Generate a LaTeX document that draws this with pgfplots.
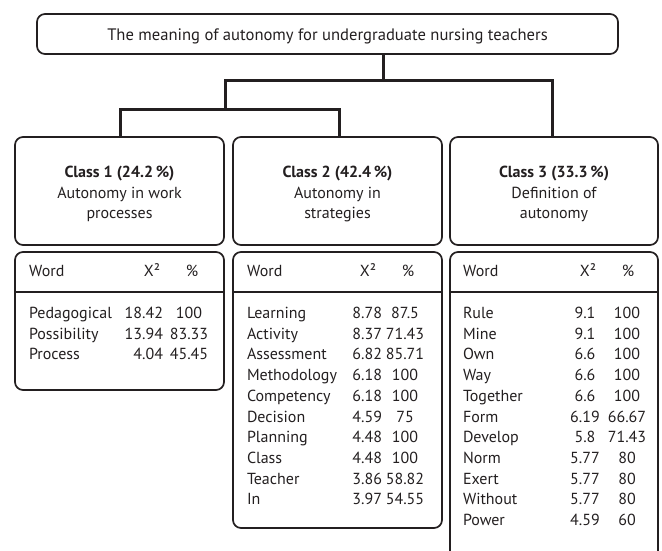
\documentclass[border=0pt]{standalone}
\usepackage{pgfplots}
\pgfplotsset{compat=1.18}
\usepackage{pgfplotstable}
\usepackage{fontspec}
\setmainfont{PT Sans}
\newcommand\tf{\fontsize{16pt}{19pt}\selectfont}
\newcommand\lbox[1]{\makebox[0pt][l]{#1}}
\newcommand\rbox[1]{\makebox[0pt][r]{#1}}
\newcommand\cbox[1]{#1}
\definecolor{ink}{HTML}{231F20}

\pgfplotstableread{
word chi pct
Pedagogical 18.42 100
Possibility 13.94 83.33
Process 4.04 45.45
}\classone
\pgfplotstableread{
word chi pct
Learning 8.78 87.5
Activity 8.37 71.43
Assessment 6.82 85.71
Methodology 6.18 100
Competency 6.18 100
Decision 4.59 75
Planning 4.48 100
Class 4.48 100
Teacher 3.86 58.82
In 3.97 54.55
}\classtwo
\pgfplotstableread{
word chi pct
Rule 9.1 100
Mine 9.1 100
Own 6.6 100
Way 6.6 100
Together 6.6 100
Form 6.19 66.67
Develop 5.8 71.43
Norm 5.77 80
Exert 5.77 80
Without 5.77 80
Power 4.59 60
}\classthree

% #1 table, #2 column, #3 x position, #4 alignment macro
\newcommand\col[4]{%
  \addplot[draw=none, mark=none, point meta=explicit symbolic,
    nodes near coords={#4{\pgfplotspointmeta}},
    nodes near coords align=center,
    every node near coord/.append style={font=\tf, inner sep=0pt, text height=11pt, text depth=3pt, text=ink}]
    table[x expr=#3, y expr={314.3+20.74*\coordindex}, meta=#2] {#1};}

\begin{document}
\begin{tikzpicture}
\begin{axis}[
  width=662pt, height=551pt, scale only axis,
  xmin=0, xmax=662, ymin=0, ymax=551, y dir=reverse,
  hide axis,
]
\path (rel axis cs:0,0) rectangle (rel axis cs:1,1);
% title box
\draw[line width=1.7pt, rounded corners=8pt, ink] (37,14) rectangle (618,54);
\node[anchor=base, inner sep=0pt, font=\fontsize{16.6pt}{19pt}\selectfont, text=ink] at (327.5,40.7) {The meaning of autonomy for undergraduate nursing teachers};
% connectors
\draw[line width=3pt, ink, line join=miter] (383,54) -- (383,81);
\draw[line width=3pt, ink, line join=miter] (225,110) -- (225,81) -- (552,81) -- (552,137);
\draw[line width=3pt, ink, line join=miter] (120,137) -- (120,110) -- (339,110) -- (339,137);
% class boxes
\draw[line width=1.7pt, rounded corners=8pt, ink] (15,137) rectangle (224,245);
\draw[line width=1.7pt, rounded corners=8pt, ink] (233,137) rectangle (442,245);
\draw[line width=1.7pt, rounded corners=8pt, ink] (450,137) rectangle (658,245);
\begin{scope}[every node/.style={anchor=base, inner sep=0pt, font=\tf, text=ink}]
\node at (119.5,177.5) {\textbf{Class 1 (24.2\,\%)}};
\node at (119.5,198) {Autonomy in work};
\node at (119.5,218.5) {processes};
\node at (337.5,177.5) {\textbf{Class 2 (42.4\,\%)}};
\node at (337.5,198) {Autonomy in};
\node at (337.5,218.5) {strategies};
\node at (554,177.5) {\textbf{Class 3 (33.3\,\%)}};
\node at (554,198) {Definition of};
\node at (554,218.5) {autonomy};
% table headers
\node[anchor=base west] at (29,276.7) {Word};
\node at (152,276.7) {X²};
\node at (192,276.7) {\%};
\node[anchor=base west] at (247,276.7) {Word};
\node at (368,276.7) {X²};
\node at (408,276.7) {\%};
\node[anchor=base west] at (463,276.7) {Word};
\node at (588,276.7) {X²};
\node at (628,276.7) {\%};
\end{scope}
% table boxes
\draw[line width=1.7pt, rounded corners=8pt, ink] (15,252) rectangle (224,390);
\draw[line width=1.7pt, rounded corners=8pt, ink] (233,252) rectangle (442,528);
\draw[line width=1.7pt, rounded corners=8pt, ink] (450,556) -- (450,252) -- (658,252) -- (658,556);
\draw[line width=1.1pt, ink] (15,292) -- (224,292);
\draw[line width=1.1pt, ink] (233,292) -- (442,292);
\draw[line width=1.1pt, ink] (450,292) -- (658,292);
% table data
\col{\classone}{word}{29}{\lbox}
\col{\classone}{chi}{163}{\rbox}
\col{\classone}{pct}{189}{\cbox}
\col{\classtwo}{word}{247}{\lbox}
\col{\classtwo}{chi}{382}{\rbox}
\col{\classtwo}{pct}{405}{\cbox}
\col{\classthree}{word}{463}{\lbox}
\col{\classthree}{chi}{585}{\cbox}
\col{\classthree}{pct}{627}{\cbox}
\end{axis}
\end{tikzpicture}
\end{document}
